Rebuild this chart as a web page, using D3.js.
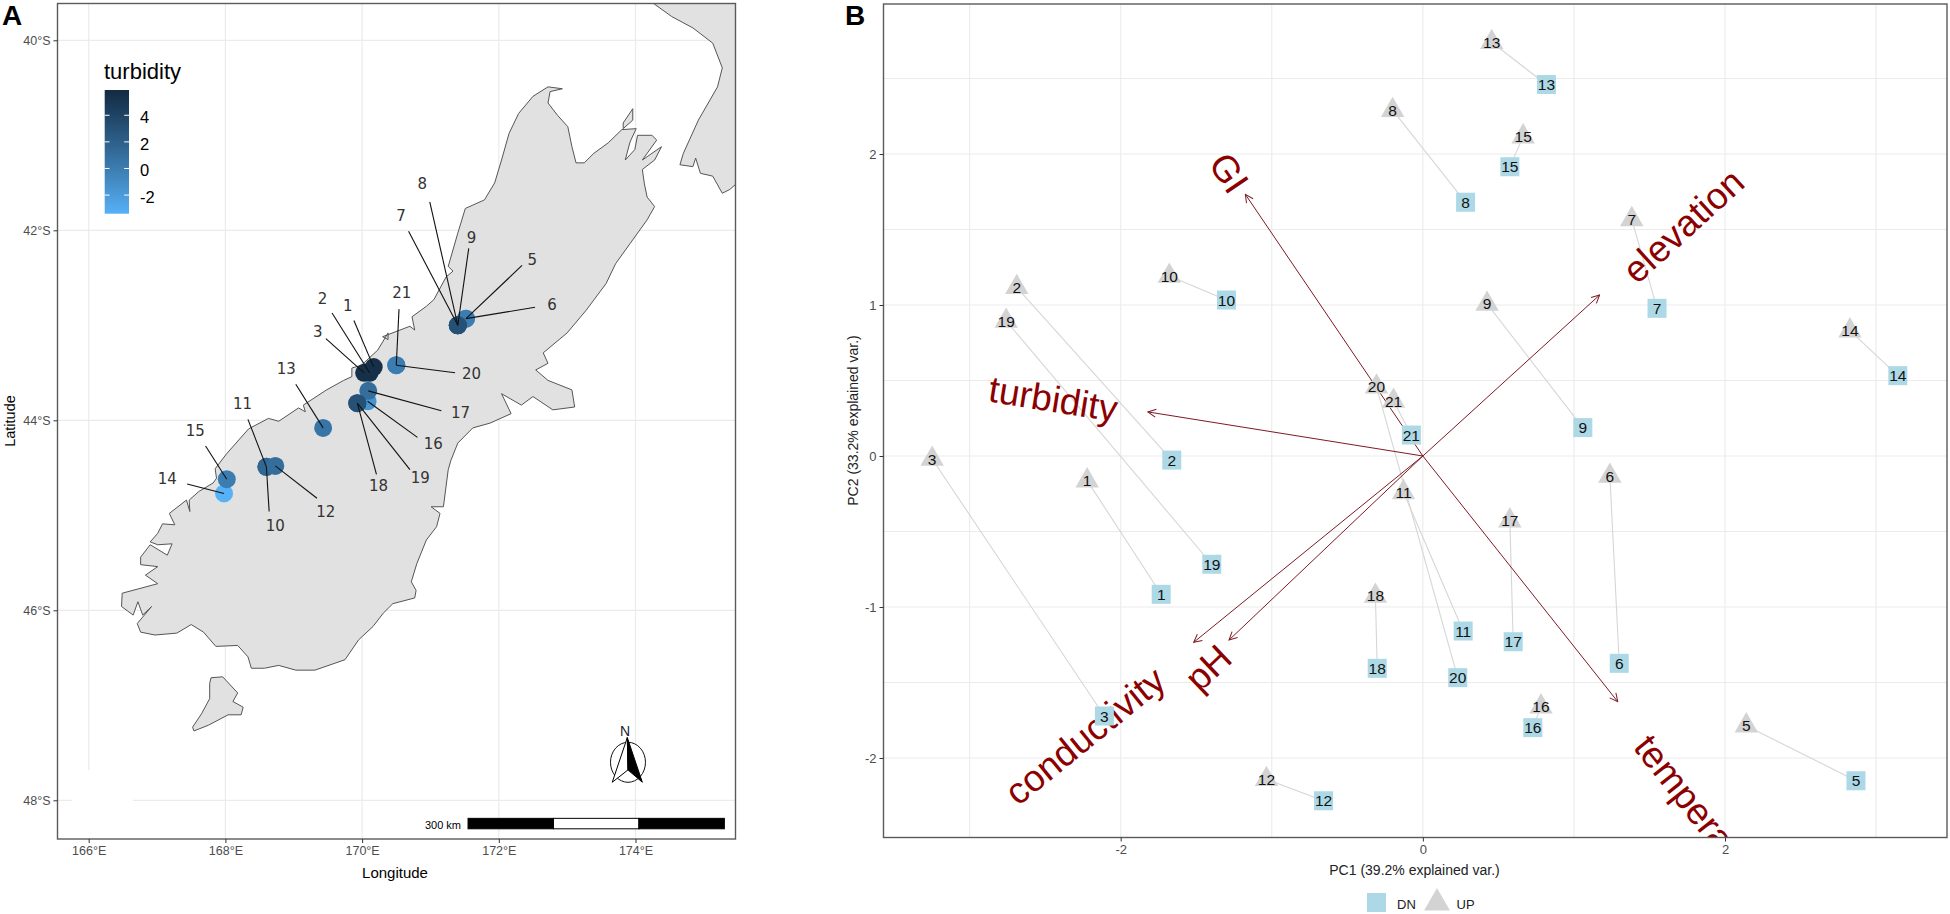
<!DOCTYPE html>
<html><head><meta charset="utf-8">
<script src="https://d3js.org/d3.v7.min.js"></script>
<style>html,body{margin:0;padding:0;background:#fff}svg{display:block;font-family:"Liberation Sans",Arial,sans-serif}</style>
</head><body><div id="chart"></div>
<script>
// ---------- Panel A data (longitude / latitude) ----------
const lonTicks=[166,168,170,172,174];
const latTicks=[40,42,44,46,48];
const southIsland=[[172.72,40.49],[172.93,40.51],[172.75,40.54],[172.72,40.66],[172.86,40.79],[173.01,40.91],[173.07,41.12],[173.13,41.29],[173.25,41.29],[173.39,41.19],[173.60,41.08],[173.80,40.94],[174.01,40.93],[173.92,41.07],[173.85,41.26],[173.99,41.15],[174.03,41.00],[174.24,41.00],[174.31,41.05],[174.10,41.26],[174.38,41.12],[174.28,41.26],[174.10,41.36],[174.13,41.51],[174.17,41.65],[174.28,41.75],[174.17,41.89],[173.92,42.14],[173.71,42.35],[173.57,42.56],[173.28,42.84],[173.00,43.08],[172.65,43.29],[172.72,43.40],[172.54,43.47],[172.72,43.58],[173.07,43.68],[173.11,43.86],[172.79,43.89],[172.50,43.75],[172.33,43.84],[172.04,43.72],[172.18,43.93],[171.87,44.03],[171.62,44.08],[171.40,44.24],[171.30,44.42],[171.26,44.52],[171.19,44.91],[171.01,44.91],[171.14,44.98],[171.09,45.12],[170.94,45.26],[170.80,45.51],[170.72,45.70],[170.79,45.79],[170.77,45.87],[170.45,45.93],[170.31,46.03],[170.16,46.17],[169.95,46.31],[169.75,46.52],[169.31,46.63],[169.03,46.63],[168.78,46.58],[168.57,46.61],[168.38,46.61],[168.33,46.49],[168.18,46.37],[167.86,46.38],[167.68,46.23],[167.50,46.15],[167.29,46.24],[166.97,46.26],[166.76,46.23],[166.71,46.14],[166.92,45.96],[166.79,46.05],[166.72,45.91],[166.65,46.05],[166.48,45.96],[166.49,45.82],[167.01,45.72],[166.83,45.63],[167.01,45.54],[166.76,45.52],[166.76,45.44],[166.90,45.31],[167.15,45.42],[167.22,45.30],[167.01,45.31],[166.90,45.28],[167.01,45.19],[167.08,45.09],[167.26,45.10],[167.18,44.98],[167.43,44.84],[167.48,44.96],[167.47,44.84],[167.61,44.75],[167.82,44.66],[167.87,44.61],[167.85,44.51],[168.02,44.35],[168.34,44.09],[168.63,43.98],[168.78,44.01],[169.07,43.87],[169.17,43.91],[169.14,43.84],[169.48,43.68],[169.73,43.58],[169.85,43.54],[169.85,43.45],[169.99,43.42],[170.23,43.26],[170.38,43.08],[170.38,43.15],[170.30,43.12],[170.70,43.01],[170.77,43.05],[170.73,42.91],[170.94,42.80],[171.05,42.73],[171.23,42.49],[171.33,42.43],[171.26,42.38],[171.40,42.03],[171.51,41.77],[171.79,41.68],[171.94,41.50],[172.04,41.26],[172.15,40.98],[172.29,40.77],[172.50,40.59]];
const stewartIsland=[[167.79,46.71],[167.96,46.70],[168.18,46.87],[168.11,46.96],[168.26,47.02],[168.23,47.10],[168.04,47.10],[167.75,47.21],[167.54,47.27],[167.52,47.23],[167.65,47.09],[167.77,46.93],[167.77,46.77]];
const northIsland=[[174.1,39.45],[174.24,39.60],[174.53,39.75],[174.84,39.87],[175.13,40.03],[175.27,40.29],[175.20,40.49],[174.92,40.84],[174.70,41.19],[174.65,41.31],[174.84,41.33],[174.88,41.24],[174.95,41.40],[175.13,41.43],[175.27,41.61],[175.38,41.57],[175.46,41.52],[176,41.3],[176,39.45]];
const durvilleIslet=[[173.96,40.72],[173.82,40.87],[173.82,40.93],[173.96,40.84]];
const siteIds =[1,2,3,5,6,7,8,9,10,11,12,13,14,15,16,17,18,19,20,21];
const siteLon =[170.17,170.11,170.03,171.52,171.52,171.40,171.40,171.40,168.60,168.60,168.73,169.43,167.98,168.02,170.08,170.09,169.93,169.93,170.50,170.50];
const siteLat =[43.44,43.50,43.50,42.93,42.93,43.00,43.00,43.00,44.49,44.49,44.48,44.08,44.77,44.62,43.80,43.69,43.82,43.82,43.42,43.42];
const turbidity=[5.5,5.5,5.5,0,0,4,3,3,2.5,1.5,1,0.5,-3.4,0,-1.5,1,3.5,3,0,0];
const labelLon=[169.79,169.42,169.35,172.49,172.78,170.57,170.88,171.60,168.73,168.25,169.47,168.89,167.15,167.56,171.04,171.44,170.24,170.85,171.60,170.58];
const labelLat=[42.80,42.72,43.07,42.31,42.79,41.85,41.51,42.08,45.11,43.83,44.97,43.46,44.62,44.11,44.25,43.92,44.69,44.61,43.51,42.66];
const leaderLon=[169.88,169.56,169.47,172.34,172.53,170.68,170.99,171.56,168.64,168.33,169.34,169.03,167.44,167.71,170.81,171.16,170.21,170.70,171.36,170.54];
const leaderLat=[42.95,42.87,43.14,42.37,42.81,42.01,41.70,42.19,44.96,43.99,44.82,43.62,44.67,44.27,44.18,43.90,44.57,44.52,43.50,42.83];
const legendTicks=[4,2,0,-2];
const legendDomain=[-3.4,5.9];
const scaleBarLon=[171.55,172.80,174.05,175.30];
const scaleBarLat=[48.19,48.30];
const northLeft=[[173.88,47.34],[173.66,47.81],[173.89,47.68]];
const northRight=[[173.88,47.34],[174.10,47.81],[173.89,47.68]];
const northCentre=[173.89,47.60];

// ---------- Panel B data (PC scores and loadings) ----------
const pcaSites=[1,2,3,5,6,7,8,9,10,11,12,13,14,15,16,17,18,19,20,21];
const upPC1=[-2.222,-2.688,-3.248,2.141,1.238,1.383,-0.2,0.425,-1.678,-0.128,-1.035,0.456,2.827,0.664,0.782,0.576,-0.314,-2.758,-0.307,-0.194];
const upPC2=[-0.163,1.117,-0.02,-1.786,-0.133,1.567,2.29,1.007,1.192,-0.241,-2.141,2.74,0.83,2.115,-1.66,-0.428,-0.927,0.894,0.459,0.364];
const dnPC1=[-1.732,-1.662,-2.108,2.867,1.30,1.55,0.283,1.059,-1.30,0.267,-0.657,0.818,3.144,0.576,0.728,0.598,-0.302,-1.397,0.231,-0.076];
const dnPC2=[-0.916,-0.027,-1.722,-2.15,-1.373,0.978,1.68,0.188,1.033,-1.159,-2.283,2.46,0.532,1.916,-1.799,-1.23,-1.406,-0.717,-1.468,0.139];
const varNames=["GI","turbidity","elevation","conductivity","pH","temperature"];
const varPC1=[-1.175,-1.82,1.17,-1.517,-1.283,1.29];
const varPC2=[1.733,0.292,1.066,-1.234,-1.219,-1.627];
const varLabelPC1=[-1.285,-2.447,1.725,-2.235,-1.42,1.861];
const varLabelPC2=[1.874,0.376,1.523,-1.855,-1.404,-2.397];
const pc1Major=[-2,0,2], pc1Minor=[-3,-1,1,3];
const pc2Major=[-2,-1,0,1,2], pc2Minor=[-1.5,-0.5,0.5,1.5,2.5];

const svg=d3.select("#chart").append("svg").attr("width",1950).attr("height",914);
const defs=svg.append("defs");
const grid="#ebebeb", tickCol="#4d4d4d", border="#5a5a5a";

// ============ Panel A ============
const A={l:57.5,r:735.5,t:3.5,b:839};
const x=d3.scaleLinear().domain([166,174]).range([88.7,635.5]);
const y=d3.scaleLinear().domain([40,48]).range([40.3,800.3]);
defs.append("clipPath").attr("id","clipA").append("rect").attr("x",A.l).attr("y",A.t).attr("width",A.r-A.l).attr("height",A.b-A.t);
const gA=svg.append("g");
gA.selectAll(".gx").data(lonTicks).join("line").attr("x1",d=>x(d)).attr("x2",d=>x(d)).attr("y1",A.t).attr("y2",A.b).attr("stroke",grid).attr("stroke-width",1.2);
gA.selectAll(".gy").data(latTicks).join("line").attr("x1",A.l).attr("x2",A.r).attr("y1",d=>y(d)).attr("y2",d=>y(d)).attr("stroke",grid).attr("stroke-width",1.2);
// erased patch in the lower-left corner of the map
gA.append("rect").attr("x",72).attr("y",y(47.68)).attr("width",61).attr("height",A.b-y(47.68)-1).attr("fill","#fff");
const coast=d3.line().x(d=>x(d[0])).y(d=>y(d[1]));
const land=gA.append("g").attr("clip-path","url(#clipA)");
[southIsland,stewartIsland,northIsland,durvilleIslet].forEach(p=>{
  land.append("path").attr("d",coast(p)+"Z").attr("fill","#e1e1e1").attr("stroke","#555").attr("stroke-width",1).attr("stroke-linejoin","round");
});
const colour=d3.scaleLinear().domain(legendDomain).range(["#56B1F7","#132B43"]).interpolate(d3.interpolateLab);
const sites=siteIds.map((id,i)=>({id,lon:siteLon[i],lat:siteLat[i],t:turbidity[i],lx:labelLon[i],ly:labelLat[i],sx:leaderLon[i],sy:leaderLat[i]}));
gA.selectAll("circle.site").data(sites).join("circle").attr("class","site").attr("cx",d=>x(d.lon)).attr("cy",d=>y(d.lat)).attr("r",9).attr("fill",d=>colour(d.t));
gA.selectAll("line.lead").data(sites).join("line").attr("class","lead").attr("x1",d=>x(d.sx)).attr("y1",d=>y(d.sy)).attr("x2",d=>x(d.lon)).attr("y2",d=>y(d.lat)).attr("stroke","#111").attr("stroke-width",1.1);
gA.selectAll("text.lab").data(sites).join("text").attr("class","lab").attr("x",d=>x(d.lx)).attr("y",d=>y(d.ly)).attr("text-anchor","middle").attr("dominant-baseline","central").style("font-family","'DejaVu Sans'").style("font-size","15px").attr("fill","#333").text(d=>d.id);
// border + axes
gA.append("rect").attr("x",A.l).attr("y",A.t).attr("width",A.r-A.l).attr("height",A.b-A.t).attr("fill","none").attr("stroke",border).attr("stroke-width",1.4);
const axA=gA.append("g").attr("transform",`translate(0,${A.b})`).call(d3.axisBottom(x).tickValues(lonTicks).tickFormat(d=>d+"°E").tickSize(4).tickPadding(3));
const ayA=gA.append("g").attr("transform",`translate(${A.l},0)`).call(d3.axisLeft(y).tickValues(latTicks).tickFormat(d=>d+"°S").tickSize(4).tickPadding(3));
[axA,ayA].forEach(a=>{a.select(".domain").remove();a.selectAll("line").attr("stroke","#333");a.selectAll("text").attr("fill",tickCol).style("font-size","12.5px").style("font-family","'Liberation Sans'");});
gA.append("text").attr("x",395).attr("y",872).attr("text-anchor","middle").attr("dominant-baseline","central").style("font-size","15px").text("Longitude");
gA.append("text").attr("transform","translate(10,421) rotate(-90)").attr("text-anchor","middle").attr("dominant-baseline","central").style("font-size","14.5px").text("Latitude");
// legend
const lg=defs.append("linearGradient").attr("id","turb").attr("x1",0).attr("x2",0).attr("y1",1).attr("y2",0);
d3.range(0,1.01,0.1).forEach(t=>lg.append("stop").attr("offset",t).attr("stop-color",colour(legendDomain[0]+t*(legendDomain[1]-legendDomain[0]))));
const ly=d3.scaleLinear().domain(legendDomain).range([213.7,90]);
gA.append("text").attr("x",104).attr("y",71).attr("dominant-baseline","central").style("font-size","22px").text("turbidity");
gA.append("rect").attr("x",104.7).attr("y",90).attr("width",24.3).attr("height",123.7).attr("fill","url(#turb)");
legendTicks.forEach(t=>{
  gA.append("line").attr("x1",104.7).attr("x2",109.5).attr("y1",ly(t)).attr("y2",ly(t)).attr("stroke","#fff");
  gA.append("line").attr("x1",124.2).attr("x2",129).attr("y1",ly(t)).attr("y2",ly(t)).attr("stroke","#fff");
  gA.append("text").attr("x",140).attr("y",ly(t)+2).attr("dominant-baseline","central").style("font-size","16.5px").text(t);
});
// scale bar
scaleBarLon.slice(0,-1).forEach((v,i)=>{
  gA.append("rect").attr("x",x(v)).attr("y",y(scaleBarLat[0])).attr("width",x(scaleBarLon[i+1])-x(v)).attr("height",y(scaleBarLat[1])-y(scaleBarLat[0])).attr("fill",i===1?"#fff":"#000").attr("stroke","#000").attr("stroke-width",1);
});
gA.append("text").attr("x",x(scaleBarLon[0])-7).attr("y",825).attr("text-anchor","end").attr("dominant-baseline","central").style("font-size","11px").text("300 km");
// north arrow
const nc=[x(northCentre[0]),y(northCentre[1])];
gA.append("ellipse").attr("cx",nc[0]).attr("cy",nc[1]).attr("rx",17.5).attr("ry",20).attr("fill","#fff").attr("stroke","#111").attr("stroke-width",1);
gA.append("path").attr("d",coast(northLeft)+"Z").attr("fill","#fff").attr("stroke","#000").attr("stroke-width",1);
gA.append("path").attr("d",coast(northRight)+"Z").attr("fill","#000").attr("stroke","#000").attr("stroke-width",1);
gA.append("text").attr("x",625).attr("y",731).attr("text-anchor","middle").attr("dominant-baseline","central").style("font-size","14px").attr("fill","#223").text("N");
svg.append("text").attr("x",2).attr("y",25).style("font-size","28px").style("font-weight","bold").text("A");

// ============ Panel B ============
const B={l:883.5,r:1947,t:4,b:837.5};
const px=d3.scaleLinear().domain([-2,2]).range([1120.7,1725]);
const py=d3.scaleLinear().domain([-2,2]).range([758,154]);
defs.append("clipPath").attr("id","clipB").append("rect").attr("x",B.l).attr("y",B.t).attr("width",B.r-B.l).attr("height",B.b-B.t);
const gB=svg.append("g");
const gridB=gB.append("g").attr("stroke",grid).attr("stroke-width",1.1);
pc1Major.concat(pc1Minor).forEach(v=>gridB.append("line").attr("x1",px(v)).attr("x2",px(v)).attr("y1",B.t).attr("y2",B.b));
pc2Major.concat(pc2Minor).forEach(v=>gridB.append("line").attr("x1",B.l).attr("x2",B.r).attr("y1",py(v)).attr("y2",py(v)));
const plot=gB.append("g").attr("clip-path","url(#clipB)");
const pts=pcaSites.map((id,i)=>({id,ux:upPC1[i],uy:upPC2[i],dx:dnPC1[i],dy:dnPC2[i]}));
plot.selectAll("line.pair").data(pts).join("line").attr("class","pair").attr("x1",d=>px(d.ux)).attr("y1",d=>py(d.uy)).attr("x2",d=>px(d.dx)).attr("y2",d=>py(d.dy)).attr("stroke","#d6d6d6").attr("stroke-width",1.1);
defs.append("marker").attr("id","head").attr("viewBox","-9 -5 10 10").attr("refX",0).attr("refY",0).attr("markerWidth",10).attr("markerHeight",10).attr("markerUnits","userSpaceOnUse").attr("orient","auto")
  .append("path").attr("d","M-8,-4L0,0L-8,4").attr("fill","none").attr("stroke","#7d1a24").attr("stroke-width",1);
const vars=varNames.map((n,i)=>({n,x:varPC1[i],y:varPC2[i],lx:varLabelPC1[i],ly:varLabelPC2[i]}));
plot.selectAll("line.arrow").data(vars).join("line").attr("class","arrow").attr("x1",px(0)).attr("y1",py(0)).attr("x2",d=>px(d.x)).attr("y2",d=>py(d.y)).attr("stroke","#7d1a24").attr("stroke-width",1).attr("marker-end","url(#head)");
plot.selectAll("text.var").data(vars).join("text").attr("class","var")
  .attr("transform",d=>{const sx=px(d.x)-px(0),sy=py(d.y)-py(0);const a=Math.atan(sy/sx)*180/Math.PI;return `translate(${px(d.lx)},${py(d.ly)}) rotate(${a})`;})
  .attr("text-anchor","middle").attr("dominant-baseline","central").style("font-size","37px").attr("fill","#8b0000").text(d=>d.n);
const tri=d3.symbol().type(d3.symbolTriangle).size(239)();
const sq=d3.symbol().type(d3.symbolSquare).size(361)();
plot.selectAll("path.up").data(pts).join("path").attr("class","up").attr("d",tri).attr("fill","#d3d3d3").attr("transform",d=>`translate(${px(d.ux)},${py(d.uy)})`);
plot.selectAll("path.dn").data(pts).join("path").attr("class","dn").attr("d",sq).attr("fill","#add8e6").attr("transform",d=>`translate(${px(d.dx)},${py(d.dy)})`);
const lab=(cls,fx,fy)=>plot.selectAll("text."+cls).data(pts).join("text").attr("class",cls).attr("x",d=>px(d[fx])).attr("y",d=>py(d[fy])).attr("text-anchor","middle").attr("dominant-baseline","central").style("font-size","15.5px").attr("fill","#111").text(d=>d.id);
lab("ul","ux","uy"); lab("dl","dx","dy");
gB.append("rect").attr("x",B.l).attr("y",B.t).attr("width",B.r-B.l).attr("height",B.b-B.t).attr("fill","none").attr("stroke",border).attr("stroke-width",1.4);
const axB=gB.append("g").attr("transform",`translate(0,${B.b})`).call(d3.axisBottom(px).tickValues(pc1Major).tickFormat(d3.format("d")).tickSize(4).tickPadding(3));
const ayB=gB.append("g").attr("transform",`translate(${B.l},0)`).call(d3.axisLeft(py).tickValues(pc2Major).tickFormat(d3.format("d")).tickSize(4).tickPadding(3));
[axB,ayB].forEach(a=>{a.select(".domain").remove();a.selectAll("line").attr("stroke","#333");a.selectAll("text").attr("fill",tickCol).style("font-size","13px").style("font-family","'Liberation Sans'").text(function(){return this.textContent.replace("\u2212","-");});});
gB.append("text").attr("x",1414.5).attr("y",870).attr("text-anchor","middle").attr("dominant-baseline","central").style("font-size","14px").attr("fill","#222").text("PC1 (39.2% explained var.)");
gB.append("text").attr("transform","translate(853,420.5) rotate(-90)").attr("text-anchor","middle").attr("dominant-baseline","central").style("font-size","14px").attr("fill","#222").text("PC2 (33.2% explained var.)");
// legend
gB.append("path").attr("d",sq).attr("fill","#add8e6").attr("transform","translate(1376.5,902.5)");
gB.append("text").attr("x",1397).attr("y",904).attr("dominant-baseline","central").style("font-size","13px").attr("fill","#222").text("DN");
gB.append("path").attr("d",d3.symbol().type(d3.symbolTriangle).size(290)()).attr("fill","#d3d3d3").attr("transform","translate(1437,903)");
gB.append("text").attr("x",1456.5).attr("y",904).attr("dominant-baseline","central").style("font-size","13px").attr("fill","#222").text("UP");
svg.append("text").attr("x",845).attr("y",25).style("font-size","28px").style("font-weight","bold").text("B");
</script></body></html>
